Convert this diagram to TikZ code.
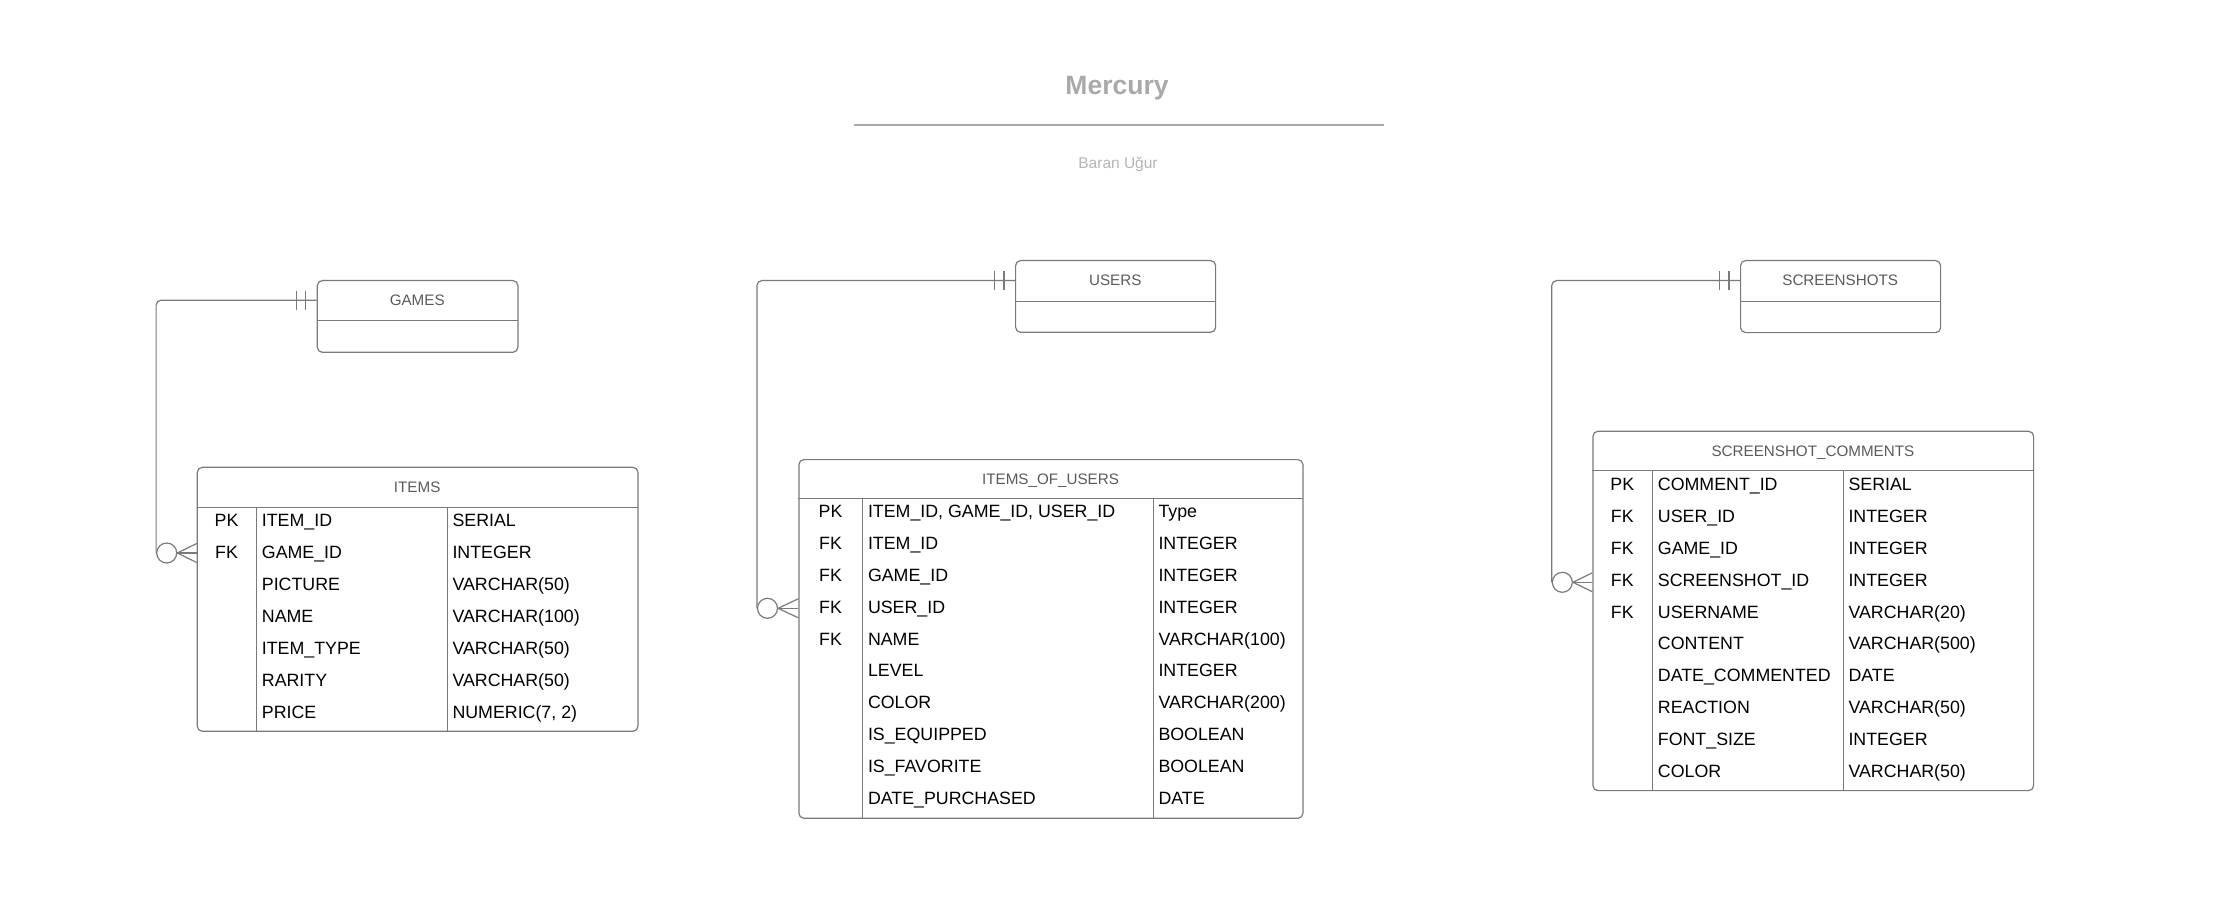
\documentclass[tikz,border=0pt]{standalone}
\usepackage{fontspec}
\setmainfont{Liberation Sans}
\usepackage{tikz}

\definecolor{linegray}{HTML}{7A7A7A}
\definecolor{hdrgray}{HTML}{5A5A5A}
\definecolor{titlegray}{HTML}{A9A9A9}
\definecolor{subgray}{HTML}{B4B4B4}

\tikzset{
  ent/.style={draw=linegray, line width=1.2pt, rounded corners=5pt, anchor=north west, inner sep=0pt},
  hdr/.style={anchor=north west, minimum height=40pt, inner sep=0pt, text=hdrgray, text height=10.9pt, text depth=0pt, font=\fontsize{15.2}{18}\selectfont},
  cell/.style={inner sep=0pt, text height=12.8pt, text depth=0pt, font=\fontsize{17.8}{21}\selectfont},
  rule/.style={draw=linegray, line width=1.2pt},
  conn/.style={draw=linegray, line width=1.2pt},
  zero/.style={circle, draw=linegray, line width=1.2pt, fill=white, minimum size=20pt, inner sep=0pt}
}

\begin{document}
\begin{tikzpicture}[x=1pt, y=-1pt]
\useasboundingbox (0,0) rectangle (2229,909);

\node[anchor=base, text=titlegray, font=\bfseries\fontsize{26.5}{30}\selectfont] (title) at (1117,94.3) {Mercury};
\draw[titlegray, line width=1.8pt] (853.6,125) -- (1383.8,125);
\node[anchor=base, text=subgray, font=\fontsize{15.5}{18}\selectfont] (author) at (1118,168.3) {Baran Uğur};

\node[ent, minimum width=200.6pt, minimum height=71.7pt] (games) at (316.7,280) {};
\node[hdr, minimum width=200.6pt] (games-h) at (316.7,280) {GAMES};
\draw[rule] (games-h.south west) -- (games-h.south east);

\node[ent, minimum width=200pt, minimum height=71.7pt] (users) at (1015,260) {};
\node[hdr, minimum width=200pt, minimum height=40.7pt] (users-h) at (1015,260) {USERS};
\draw[rule] (users-h.south west) -- (users-h.south east);

\node[ent, minimum width=200pt, minimum height=72pt] (shots) at (1740,260) {};
\node[hdr, minimum width=200pt, minimum height=40.7pt] (shots-h) at (1740,260) {SCREENSHOTS};
\draw[rule] (shots-h.south west) -- (shots-h.south east);

\node[ent, minimum width=440.6pt, minimum height=264pt] (items) at (196.7,466.7) {};
\node[hdr, minimum width=440.6pt] (items-h) at (196.7,466.7) {ITEMS};
\draw[rule] (items-h.south west) -- (items-h.south east);
\draw[rule] (256.3,506.7) -- (256.3,730.7);
\draw[rule] (447.3,506.7) -- (447.3,730.7);
\foreach \k/\n/\t [count=\i] in {PK/ITEM\_ID/SERIAL, FK/GAME\_ID/INTEGER, /PICTURE/VARCHAR(50),
    /NAME/VARCHAR(100), /ITEM\_TYPE/VARCHAR(50), /RARITY/VARCHAR(50), /PRICE/{NUMERIC(7, 2)}} {
  \node[cell] (items-k\i) at (226.5,488.5+32*\i) {\k};
  \node[cell, anchor=west] (items-n\i) at (261.7,488.5+32*\i) {\n};
  \node[cell, anchor=west] (items-t\i) at (452.3,488.5+32*\i) {\t};
}

\node[ent, minimum width=504pt, minimum height=358.7pt] (owned) at (798.3,459) {};
\node[hdr, minimum width=504pt, minimum height=39.3pt] (owned-h) at (798.3,459) {ITEMS\_OF\_USERS};
\draw[rule] (owned-h.south west) -- (owned-h.south east);
\draw[rule] (862.8,498.3) -- (862.8,817.7);
\draw[rule] (1153.8,498.3) -- (1153.8,817.7);
\foreach \k/\n/\t [count=\i] in {PK/{ITEM\_ID, GAME\_ID, USER\_ID}/Type, FK/ITEM\_ID/INTEGER,
    FK/GAME\_ID/INTEGER, FK/USER\_ID/INTEGER, FK/NAME/VARCHAR(100), /LEVEL/INTEGER,
    /COLOR/VARCHAR(200), /IS\_EQUIPPED/BOOLEAN, /IS\_FAVORITE/BOOLEAN, /DATE\_PURCHASED/DATE} {
  \node[cell] (owned-k\i) at (830.5,479.1+31.9*\i) {\k};
  \node[cell, anchor=west] (owned-n\i) at (867.8,479.1+31.9*\i) {\n};
  \node[cell, anchor=west] (owned-t\i) at (1158.3,479.1+31.9*\i) {\t};
}

\node[ent, minimum width=440.7pt, minimum height=359.3pt] (comments) at (1592.3,430.7) {};
\node[hdr, minimum width=440.7pt, minimum height=39.6pt] (comments-h) at (1592.3,430.7) {SCREENSHOT\_COMMENTS};
\draw[rule] (comments-h.south west) -- (comments-h.south east);
\draw[rule] (1652.3,470.3) -- (1652.3,790);
\draw[rule] (1843.3,470.3) -- (1843.3,790);
\foreach \k/\n/\t [count=\i] in {PK/COMMENT\_ID/SERIAL, FK/USER\_ID/INTEGER, FK/GAME\_ID/INTEGER,
    FK/SCREENSHOT\_ID/INTEGER, FK/USERNAME/VARCHAR(20), /CONTENT/VARCHAR(500),
    /DATE\_COMMENTED/DATE, /REACTION/VARCHAR(50), /FONT\_SIZE/INTEGER, /COLOR/VARCHAR(50)} {
  \node[cell] (comments-k\i) at (1622.3,452.1+31.9*\i) {\k};
  \node[cell, anchor=west] (comments-n\i) at (1657.7,452.1+31.9*\i) {\n};
  \node[cell, anchor=west] (comments-t\i) at (1848.3,452.1+31.9*\i) {\t};
}

\node[zero] (items-z) at (166.7,553) {};
\draw[conn] (items-z.east) -- (items.west |- items-z);
\draw[conn] (items-z.east) -- ([yshift=9.5pt]items.west |- items-z);
\draw[conn] (items-z.east) -- ([yshift=-9.5pt]items.west |- items-z);
\draw[conn, rounded corners=5pt] (items-z.west) |- (games-h.west);
\draw[conn] ([xshift=-20pt]games-h.west) ++(0,-9.3) -- ++(0,18.6);
\draw[conn] ([xshift=-11pt]games-h.west) ++(0,-9.3) -- ++(0,18.6);

\node[zero] (owned-z) at (767.5,608.3) {};
\draw[conn] (owned-z.east) -- (owned.west |- owned-z);
\draw[conn] (owned-z.east) -- ([yshift=9.5pt]owned.west |- owned-z);
\draw[conn] (owned-z.east) -- ([yshift=-9.5pt]owned.west |- owned-z);
\draw[conn, rounded corners=5pt] (owned-z.west) |- (users-h.west);
\draw[conn] ([xshift=-20.7pt]users-h.west) ++(0,-9.3) -- ++(0,18.6);
\draw[conn] ([xshift=-11pt]users-h.west) ++(0,-9.3) -- ++(0,18.6);

\node[zero] (comments-z) at (1562.3,582.3) {};
\draw[conn] (comments-z.east) -- (comments.west |- comments-z);
\draw[conn] (comments-z.east) -- ([yshift=9.5pt]comments.west |- comments-z);
\draw[conn] (comments-z.east) -- ([yshift=-9.5pt]comments.west |- comments-z);
\draw[conn, rounded corners=5pt] (comments-z.west) |- (shots-h.west);
\draw[conn] ([xshift=-20.7pt]shots-h.west) ++(0,-9.3) -- ++(0,18.6);
\draw[conn] ([xshift=-11pt]shots-h.west) ++(0,-9.3) -- ++(0,18.6);
\end{tikzpicture}
\end{document}
